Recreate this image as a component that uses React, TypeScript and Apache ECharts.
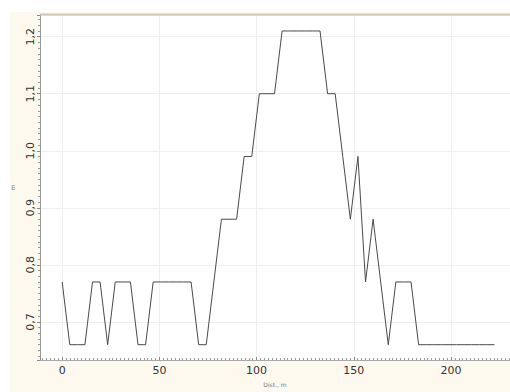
import React, { useEffect, useRef } from "react";
import * as echarts from "echarts";

const xValues = [
  0, 3.9, 7.8, 11.7, 15.6, 19.5, 23.4, 27.3, 31.2, 35.1,
  39, 42.9, 46.8, 50.7, 54.6, 58.5, 62.4, 66.3, 70.2, 74.1,
  78, 81.9, 85.8, 89.7, 93.6, 97.5, 101.4, 105.3, 109.2, 113.1,
  117, 120.9, 124.8, 128.7, 132.6, 136.5, 140.4, 144.3, 148.2, 152.1,
  156, 159.9, 163.8, 167.7, 171.6, 175.5, 179.4, 183.3, 187.2, 191.1,
  195, 198.9, 202.8, 206.7, 210.6, 214.5, 218.4, 222.3,
];
const yValues = [
  0.77, 0.66, 0.66, 0.66, 0.77, 0.77, 0.66, 0.77, 0.77, 0.77,
  0.66, 0.66, 0.77, 0.77, 0.77, 0.77, 0.77, 0.77, 0.66, 0.66,
  0.77, 0.88, 0.88, 0.88, 0.99, 0.99, 1.1, 1.1, 1.1, 1.21,
  1.21, 1.21, 1.21, 1.21, 1.21, 1.1, 1.1, 0.99, 0.88, 0.99,
  0.77, 0.88, 0.77, 0.66, 0.77, 0.77, 0.77, 0.66, 0.66, 0.66,
  0.66, 0.66, 0.66, 0.66, 0.66, 0.66, 0.66, 0.66,
];
const xAxisTitle = "Dist., m";
const yAxisTitle = "m";

export default function App() {
  const ref = useRef<HTMLDivElement>(null);
  useEffect(() => {
    if (!ref.current) return;
    const chart = echarts.init(ref.current, undefined, { renderer: "svg" });
    const data = xValues.map((x, i) => [x, yValues[i]]);
    const font = "DejaVu Sans";
    chart.setOption({
      animation: false,
      backgroundColor: "#ffffff",
      graphic: [
        {
          type: "rect",
          z: -10,
          silent: true,
          shape: { x: 10, y: 12, width: 500, height: 380 },
          style: { fill: "#fdf9ee" },
        },
        {
          type: "line",
          z: 100,
          silent: true,
          shape: { x1: 40, y1: 14.5, x2: 510, y2: 14.5 },
          style: { stroke: "#cdc9b6", lineWidth: 2 },
        },
      ],
      grid: {
        left: 40,
        top: 15,
        right: 0,
        bottom: 24,
        show: true,
        backgroundColor: "#ffffff",
        borderWidth: 0,
      },
      xAxis: {
        type: "value",
        min: -11.4,
        max: 230.3,
        splitNumber: 5,
        name: xAxisTitle,
        nameLocation: "middle",
        nameGap: 20,
        nameTextStyle: { fontFamily: font, fontSize: 6, color: "#777" },
        axisLine: { show: true, onZero: false, lineStyle: { color: "#aaaaaa", width: 1 } },
        axisTick: { show: true, inside: true, length: 3, lineStyle: { color: "#888" } },
        minorTick: { show: true, splitNumber: 25, length: 2, lineStyle: { color: "#999" } },
        axisLabel: {
          showMinLabel: false,
          showMaxLabel: false,
          fontFamily: font,
          fontSize: 11,
          color: "#333",
          margin: 5,
        },
        splitLine: { show: true, lineStyle: { color: "#efefef", width: 1 } },
      },
      yAxis: {
        type: "value",
        min: 0.633,
        max: 1.238,
        splitNumber: 6,
        name: yAxisTitle,
        nameLocation: "middle",
        nameGap: 25,
        nameRotate: 90,
        nameTextStyle: { fontFamily: font, fontSize: 6, color: "#777" },
        axisLine: { show: true, onZero: false, lineStyle: { color: "#999999", width: 1 } },
        axisTick: { show: true, inside: false, length: 3, lineStyle: { color: "#888" } },
        minorTick: { show: true, splitNumber: 10, length: 2, lineStyle: { color: "#999" } },
        axisLabel: {
          showMinLabel: false,
          showMaxLabel: false,
          rotate: 90,
          fontFamily: font,
          fontSize: 11,
          color: "#333",
          margin: 4,
          formatter: (v: number) => v.toFixed(1).replace(".", ","),
        },
        splitLine: { show: true, lineStyle: { color: "#efefef", width: 1 } },
      },
      series: [
        {
          type: "line",
          data,
          symbol: "none",
          lineStyle: { color: "#4a4a4a", width: 1 },
        },
      ],
    });
    return () => chart.dispose();
  }, []);
  return (
    <div
      ref={ref}
      style={{ position: "fixed", left: 0, top: 0, width: 510, height: 392 }}
    />
  );
}
